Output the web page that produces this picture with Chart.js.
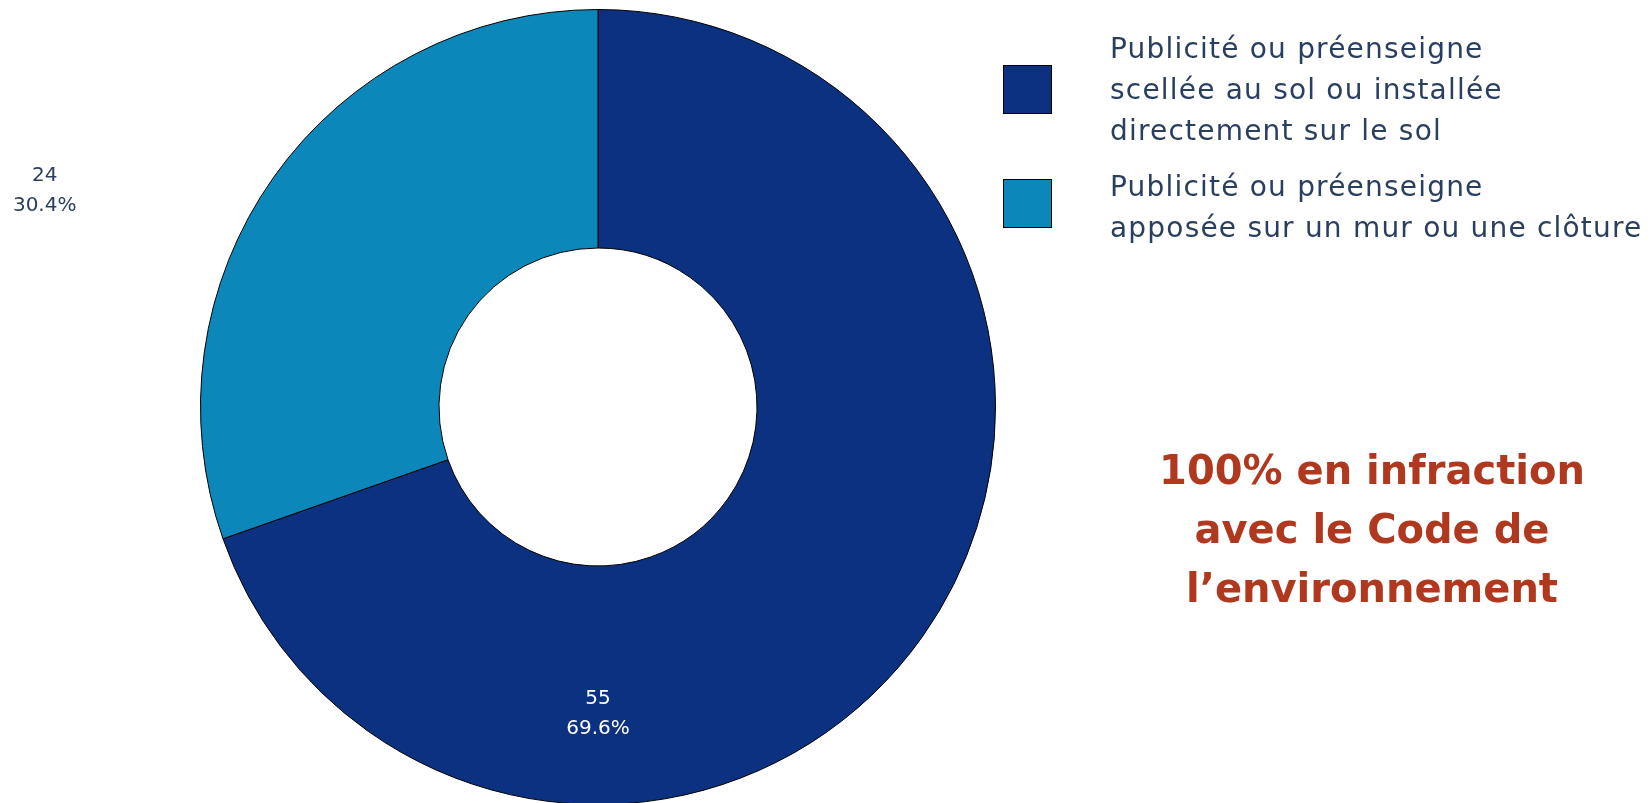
<!DOCTYPE html>
<html>
<head>
<meta charset="utf-8">
<script src="https://cdn.jsdelivr.net/npm/chart.js@4/dist/chart.umd.min.js"></script>
<style>
  html, body { margin: 0; padding: 0; background: #fff; overflow: hidden; }
  #wrap { position: absolute; left: 0; top: 0; width: 1651px; height: 820px; }
  .legend-item { position: absolute; left: 1003px; }
  .legend-box { position: absolute; left: 0; width: 49px; height: 49px; border: 1.5px solid #000; box-sizing: border-box; }
  .legend-text { position: absolute; left: 107px; white-space: nowrap; font-family: 'DejaVu Sans', sans-serif; font-size: 28px; letter-spacing: 1.2px; line-height: 41px; color: #2a3f5f; }
  #note { position: absolute; left: 1092px; top: 441px; width: 560px; text-align: center;
          font-family: 'DejaVu Sans', sans-serif; font-weight: bold; font-size: 40px; line-height: 59px; color: #b0381e; }
</style>
</head>
<body>
<div id="wrap"><canvas id="chart" width="1651" height="820"></canvas></div>
<div id="legend"></div>
<div id="note">100% en infraction<br>avec le Code de<br>l’environnement</div>
<script>
'use strict';

// --- data ---
const categories = [
  'Publicité ou préenseigne scellée au sol ou installée directement sur le sol',
  'Publicité ou préenseigne apposée sur un mur ou une clôture'
];
const legendLines = [
  ['Publicité ou préenseigne', 'scellée au sol ou installée', 'directement sur le sol'],
  ['Publicité ou préenseigne', 'apposée sur un mur ou une clôture']
];
const counts = [55, 24];
const colors = ['#0c3180', '#0b88b9'];

// --- legend (html) ---
const legendTops = [28, 166];
const legendEl = document.getElementById('legend');
categories.forEach((_, i) => {
  const item = document.createElement('div');
  item.className = 'legend-item';
  item.style.top = legendTops[i] + 'px';
  const box = document.createElement('div');
  box.className = 'legend-box';
  box.style.background = colors[i];
  box.style.top = (legendLines[i].length === 3 ? 37 : 13) + 'px';
  const txt = document.createElement('div');
  txt.className = 'legend-text';
  txt.innerHTML = legendLines[i].join('<br>');
  item.appendChild(box);
  item.appendChild(txt);
  legendEl.appendChild(item);
});

// value + percent labels, placed relative to the doughnut centre
const sliceLabels = {
  id: 'sliceLabels',
  afterDatasetsDraw(chart, args, opts) {
    const { ctx } = chart;
    const meta = chart.getDatasetMeta(0);
    const total = counts.reduce((a, b) => a + b, 0);
    ctx.save();
    ctx.font = '20px "DejaVu Sans", sans-serif';
    ctx.textAlign = 'center';
    ctx.textBaseline = 'middle';
    meta.data.forEach((arc, i) => {
      const R = arc.outerRadius;
      const [fx, fy] = opts.offsets[i];
      const x = arc.x + fx * R, y = arc.y + fy * R;
      ctx.fillStyle = opts.colors[i];
      ctx.fillText(String(counts[i]), x, y - 15);
      ctx.fillText((counts[i] / total * 100).toFixed(1) + '%', x, y + 15);
    });
    ctx.restore();
  }
};

new Chart(document.getElementById('chart'), {
  type: 'doughnut',
  data: {
    labels: categories,
    datasets: [{
      data: counts,
      backgroundColor: colors,
      borderColor: '#000',
      borderWidth: 1,
      hoverOffset: 0
    }]
  },
  options: {
    responsive: false,
    animation: false,
    cutout: '40%',
    rotation: 0,
    layout: { padding: { left: 200, right: 655, top: 9, bottom: 15 } },
    plugins: {
      legend: { display: false },
      tooltip: { enabled: false },
      sliceLabels: {
        offsets: [[0, 0.772], [-1.392, -0.543]],
        colors: ['#ffffff', '#2a3f5f']
      }
    }
  },
  plugins: [sliceLabels]
});
</script>
</body>
</html>
